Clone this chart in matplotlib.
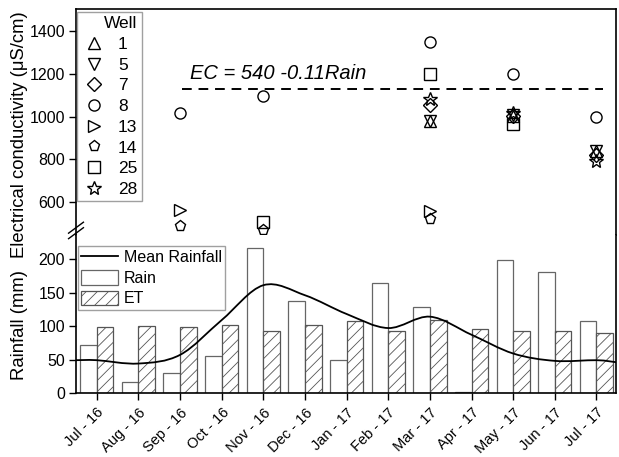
import numpy as np
import matplotlib
matplotlib.use("Agg")
import matplotlib.pyplot as plt
from matplotlib.path import Path
from matplotlib.patches import PathPatch
from matplotlib.lines import Line2D

plt.rcParams['font.family'] = ['Liberation Sans', 'DejaVu Sans']
plt.rcParams['hatch.linewidth'] = 0.6

months = ['Jul - 16', 'Aug - 16', 'Sep - 16', 'Oct - 16', 'Nov - 16', 'Dec - 16',
          'Jan - 17', 'Feb - 17', 'Mar - 17', 'Apr - 17', 'May - 17', 'Jun - 17', 'Jul - 17']
rain = [71, 17, 30, 55, 217, 137, 49, 165, 128, 2, 199, 180, 108]
et = [98, 100, 98, 102, 92, 102, 108, 93, 109, 95, 93, 93, 90]

# mean rainfall curve
mean_x = [-0.5, 0, 1, 2, 3, 4, 5, 6, 7, 8, 9, 10, 11, 12, 12.47]
mean_rain = [49, 49, 44, 57, 109, 161, 146, 118, 97, 114, 87, 59, 48, 49, 46]

# EC values by well: (month index, value)
wells = ['1', '5', '7', '8', '13', '14', '25', '28']
markers = ['^', 'v', 'D', 'o', '>', 'p', 's', '*']
ec_months = {
    '1': [8, 10, 12],
    '5': [8, 10, 12],
    '7': [8, 10, 12],
    '8': [2, 4, 8, 10, 12],
    '13': [2, 8],
    '14': [2, 4, 8],
    '25': [4, 8, 10],
    '28': [8, 10, 12],
}
ec_values = {
    '1': [981, 1005, 840],
    '5': [981, 1010, 840],
    '7': [1056, 1005, 820],
    '8': [1015, 1095, 1350, 1201, 1000],
    '13': [561, 558],
    '14': [487, 468, 518],
    '25': [505, 1201, 967],
    '28': [1083, 1015, 790],
}
ec_eq_level = 1128
ec_eq_text = 'EC = 540 -0.11Rain'

fig = plt.figure(figsize=(6.19, 4.57), dpi=100)
L, R = 76 / 619, 616 / 619
top_y, mid_y, bot_y = 1 - 9 / 457, 1 - 235 / 457, 1 - 393 / 457
ax_t = fig.add_axes([L, mid_y, R - L, top_y - mid_y])
ax_b = fig.add_axes([L, bot_y, R - L, mid_y - bot_y], sharex=ax_t)

x = np.arange(len(months))
w = 0.4
ax_b.bar(x - w / 2, rain, width=w, facecolor='white', edgecolor='#666666', linewidth=0.9, label='Rain', zorder=2)
ax_b.bar(x + w / 2, et, width=w, facecolor='white', edgecolor='#555555', hatch='///', linewidth=0.9, label='ET', zorder=2)

# smooth mean rainfall line via Catmull-Rom -> cubic Bezier
P = np.column_stack([mean_x, mean_rain]).astype(float)
verts = [P[0]]
codes = [Path.MOVETO]
n = len(P)
for i in range(n - 1):
    p0 = P[i - 1] if i > 0 else P[i]
    p1, p2 = P[i], P[i + 1]
    p3 = P[i + 2] if i + 2 < n else P[i + 1]
    c1 = p1 + (p2 - p0) / 6
    c2 = p2 - (p3 - p1) / 6
    verts += [c1, c2, p2]
    codes += [Path.CURVE4] * 3
patch = PathPatch(Path(verts, codes), facecolor='none', edgecolor='black', linewidth=1.3,
                  transform=ax_b.transData, zorder=3)
ax_b.add_patch(patch)
mean_handle = Line2D([], [], color='black', linewidth=1.3, label='Mean Rainfall')

handles = []
for wl, mk in zip(wells, markers):
    xs = ec_months[wl]
    ys = ec_values[wl]
    ms = 10 if mk == '*' else (7 if mk == 'D' else 8)
    h, = ax_t.plot(xs, ys, linestyle='none', marker=mk, markersize=ms, markerfacecolor='none',
                   markeredgecolor='black', markeredgewidth=1.0, label=wl)
    handles.append(h)

ax_t.plot([2.05, 12.15], [ec_eq_level, ec_eq_level], color='black', linestyle=(0, (5, 3.5)), linewidth=1.4)
ax_t.text(2.25, 1158, ec_eq_text, fontsize=14.5, style='italic', ha='left', va='bottom')

ax_t.set_xlim(-0.5, 12.47)
ax_t.set_ylim(445, 1505)
ax_b.set_ylim(0, 236)

ax_t.set_yticks([600, 800, 1000, 1200, 1400])
ax_b.set_yticks([0, 50, 100, 150, 200])
ax_b.set_xticks(x)
ax_b.set_xticklabels(months, rotation=45, ha='right', rotation_mode='anchor', fontsize=10.5)

for ax in (ax_t, ax_b):
    ax.tick_params(axis='y', direction='out', length=5, width=1, labelsize=11.5, pad=3)
    for s in ax.spines.values():
        s.set_linewidth(1.2)
ax_b.tick_params(axis='x', direction='out', length=5, width=1, pad=4)
ax_t.tick_params(axis='x', bottom=False, labelbottom=False)
ax_t.spines['bottom'].set_visible(False)
ax_b.spines['top'].set_visible(False)

fig.text(20 / 619, 1 - 135 / 457, 'Electrical conductivity (μS/cm)', fontsize=13.3, rotation=90,
         ha='center', va='center')
fig.text(20 / 619, 1 - 325 / 457, 'Rainfall (mm)', fontsize=13.3, rotation=90, ha='center', va='center')

leg1 = ax_t.legend(handles=handles, title='Well', loc='upper left', bbox_to_anchor=(0.002, 0.987),
                   fontsize=12.5, title_fontsize=12.5, frameon=True, fancybox=False, edgecolor='#888888',
                   handletextpad=0.7, labelspacing=0.32, borderpad=0.25, handlelength=1.4, alignment='right',
                   markerfirst=True, borderaxespad=0.0)
leg1.get_frame().set_linewidth(1.0)

leg2 = ax_b.legend(handles=[mean_handle, ax_b.patches[0], ax_b.patches[len(rain)]],
                   labels=['Mean Rainfall', 'Rain', 'ET'], loc='upper left', bbox_to_anchor=(0.004, 0.93),
                   fontsize=11.5, frameon=True, fancybox=False, edgecolor='#888888', handlelength=2.3,
                   handleheight=1.05, labelspacing=0.3, borderpad=0.2, handletextpad=0.35, borderaxespad=0.0)
leg2.get_frame().set_linewidth(1.0)

# break marks on the left axis
bx = L
by = mid_y + 0.01
d = 0.012
for off in (-0.006, 0.006):
    fig.add_artist(Line2D([bx - d, bx + d], [by + off - d * 1.0, by + off + d * 1.0],
                          color='black', linewidth=1.0, transform=fig.transFigure))

fig.savefig('out.png', dpi=100)
